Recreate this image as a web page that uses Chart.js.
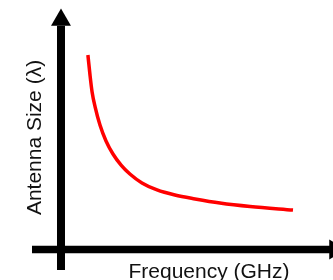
<!DOCTYPE html>
<html>
<head>
<meta charset="utf-8">
<script src="https://cdn.jsdelivr.net/npm/chart.js@4/dist/chart.umd.min.js"></script>
<style>
  html, body { margin: 0; padding: 0; background: #ffffff; overflow: hidden; }
  canvas { display: block; }
</style>
</head>
<body>
<canvas id="c" width="333" height="280"></canvas>
<script>
// Frequency (arbitrary GHz units) and antenna size (arbitrary λ units)
const frequency = [1.16, 1.25, 1.34, 1.47, 1.68, 1.94, 2.24, 2.59, 2.97, 3.49, 4.14, 4.91, 5.78, 6.85, 8.15, 10.00];
const antennaSize = [10.00, 8.97, 8.10, 7.33, 6.40, 5.58, 4.91, 4.34, 3.88, 3.42, 3.06, 2.80, 2.60, 2.39, 2.21, 2.03];

// Axis extents (data units)
const xAxisFrom = -1.25, xAxisTo = 11.6;
const yAxisFrom = -1.05, yAxisTo = 11.5;
const xArrowAt = 11.81, yArrowAt = 11.80;

const xTitle = 'Frequency (GHz)';
const yTitle = 'Antenna Size (λ)';

const curve = frequency.map((f, i) => ({ x: f, y: antennaSize[i] }));

new Chart(document.getElementById('c'), {
  type: 'line',
  data: {
    datasets: [
      {
        data: curve,
        borderColor: '#ff0000',
        borderWidth: 3.5,
        cubicInterpolationMode: 'monotone',
        pointRadius: 0,
        clip: false
      },
      {
        data: [{ x: xAxisFrom, y: 0 }, { x: xAxisTo, y: 0 }],
        borderColor: '#000000',
        borderWidth: 7.5,
        pointRadius: 0,
        clip: false
      },
      {
        data: [{ x: 0, y: yAxisFrom }, { x: 0, y: yAxisTo }],
        borderColor: '#000000',
        borderWidth: 8,
        pointRadius: 0,
        clip: false
      },
      {
        data: [{ x: 0, y: yArrowAt }],
        showLine: false,
        pointStyle: 'triangle',
        pointRadius: 11.5,
        pointHoverRadius: 40,
        pointRotation: 0,
        pointBackgroundColor: '#000000',
        pointBorderColor: '#000000',
        pointBorderWidth: 0,
        clip: false
      },
      {
        data: [{ x: xArrowAt, y: 0 }],
        showLine: false,
        pointStyle: 'triangle',
        pointRadius: 11.5,
        pointHoverRadius: 40,
        pointRotation: 90,
        pointBackgroundColor: '#000000',
        pointBorderColor: '#000000',
        pointBorderWidth: 0,
        clip: false
      }
    ]
  },
  options: {
    responsive: false,
    animation: false,
    devicePixelRatio: 1,
    events: [],
    layout: { autoPadding: false, padding: { top: 9.6, left: 0, right: 0, bottom: 0 } },
    plugins: { legend: { display: false }, tooltip: { enabled: false } },
    scales: {
      x: {
        type: 'linear',
        min: 1.0345,
        max: 11.724,
        grid: { display: false, drawTicks: false },
        border: { display: false },
        ticks: { display: false },
        title: {
          display: true,
          text: xTitle,
          color: '#111111',
          font: { family: '"Liberation Sans", Arial, sans-serif', size: 21, lineHeight: 0.695 },
          padding: { top: 0, bottom: 0 }
        }
      },
      y: {
        type: 'linear',
        min: -0.8175,
        max: 12.334,
        grid: { display: false, drawTicks: false },
        border: { display: false },
        ticks: { display: false },
        title: {
          display: true,
          text: yTitle,
          color: '#111111',
          font: { family: '"Liberation Sans", Arial, sans-serif', size: 21, lineHeight: 1.2 },
          padding: { top: 22.6, bottom: 37.2 }
        }
      }
    }
  }
});
</script>
</body>
</html>
